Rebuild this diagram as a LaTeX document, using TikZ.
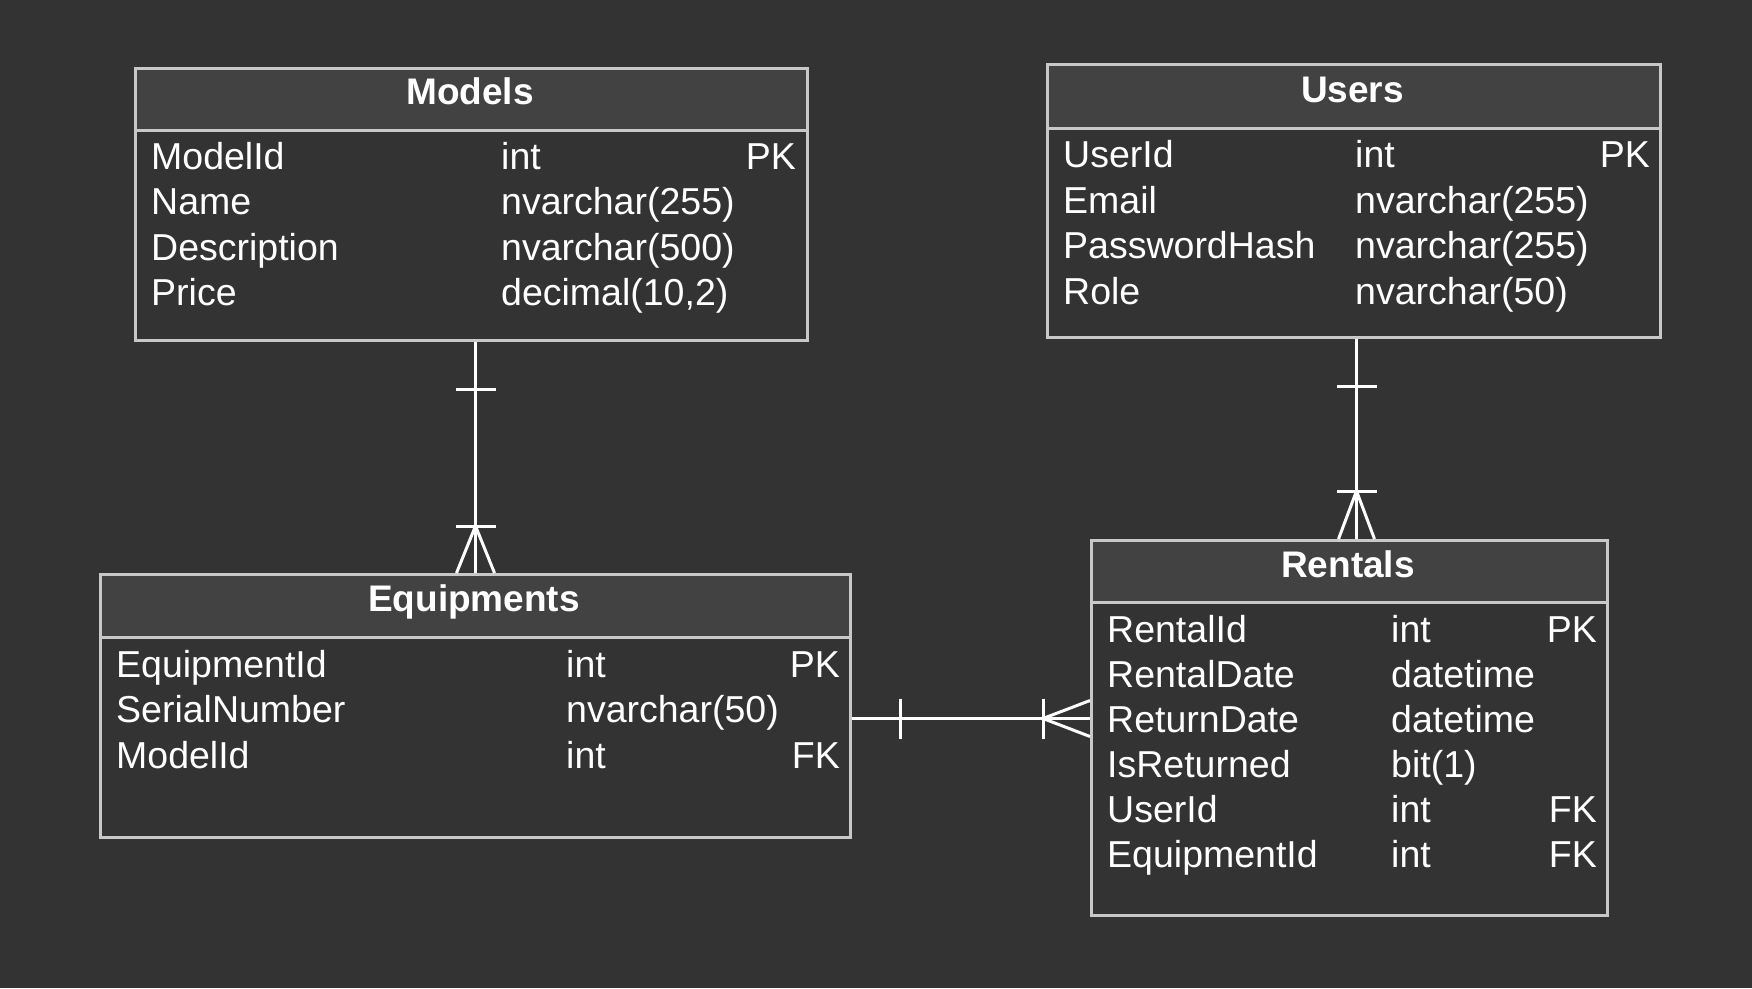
\documentclass[tikz,border=0pt]{standalone}
\usepackage{fontspec}
\setmainfont{Liberation Sans}
\usetikzlibrary{calc}
\definecolor{bg}{HTML}{333333}
\definecolor{hdr}{HTML}{424242}
\definecolor{brd}{HTML}{C8C8C8}
\begin{document}
\begin{tikzpicture}[x=1pt,y=-1pt,
  tbl/.style={draw=brd, line width=3pt, fill=bg, inner sep=0pt, anchor=north west},
  hdrbox/.style={draw=brd, line width=3pt, fill=hdr, inner sep=0pt, anchor=north west},
  field/.style={text=white, inner sep=0pt, anchor=base west, font=\fontsize{37.5}{40}\selectfont},
  keyf/.style={field, anchor=base east},
  title/.style={text=white, inner sep=0pt, anchor=base, font=\bfseries\fontsize{37}{40}\selectfont},
  rel/.style={draw=white, line width=3pt}]
\fill[bg] (0,0) rectangle (1752,988);
\useasboundingbox (0,0) rectangle (1752,988);

% Models
\node[tbl, minimum width=672pt, minimum height=272pt] (models) at (134,67) {};
\node[hdrbox, minimum width=672pt, minimum height=62pt] (modelsh) at (134,67) {};
\node[title] (mt) at (470,104) {Models};
\node[field] (m1a) at (151,169) {ModelId};
\node[field] (m1b) at (501,169) {int};
\node[keyf]  (m1c) at (796,169) {PK};
\node[field] (m2a) at (151,214.5) {Name};
\node[field] (m2b) at (501,214.5) {nvarchar(255)};
\node[field] (m3a) at (151,260) {Description};
\node[field] (m3b) at (501,260) {nvarchar(500)};
\node[field] (m4a) at (151,305.5) {Price};
\node[field] (m4b) at (501,305.5) {decimal(10,2)};

% Users
\node[tbl, minimum width=613pt, minimum height=273pt] (users) at (1046,63) {};
\node[hdrbox, minimum width=613pt, minimum height=64pt] (usersh) at (1046,63) {};
\node[title] (ut) at (1352.5,102) {Users};
\node[field] (u1a) at (1063,167.5) {UserId};
\node[field] (u1b) at (1355,167.5) {int};
\node[keyf]  (u1c) at (1650,167.5) {PK};
\node[field] (u2a) at (1063,213) {Email};
\node[field] (u2b) at (1355,213) {nvarchar(255)};
\node[field] (u3a) at (1063,258.5) {PasswordHash};
\node[field] (u3b) at (1355,258.5) {nvarchar(255)};
\node[field] (u4a) at (1063,304) {Role};
\node[field] (u4b) at (1355,304) {nvarchar(50)};

% Equipments
\node[tbl, minimum width=750pt, minimum height=263pt] (equip) at (99,573) {};
\node[hdrbox, minimum width=750pt, minimum height=63pt] (equiph) at (99,573) {};
\node[title] (et) at (474,611) {Equipments};
\node[field] (e1a) at (116,677) {EquipmentId};
\node[field] (e1b) at (566,677) {int};
\node[keyf]  (e1c) at (840,677) {PK};
\node[field] (e2a) at (116,722.5) {SerialNumber};
\node[field] (e2b) at (566,722.5) {nvarchar(50)};
\node[field] (e3a) at (116,768) {ModelId};
\node[field] (e3b) at (566,768) {int};
\node[keyf]  (e3c) at (840,768) {FK};

% Rentals
\node[tbl, minimum width=516pt, minimum height=375pt] (rentals) at (1090,539) {};
\node[hdrbox, minimum width=516pt, minimum height=62pt] (rentalsh) at (1090,539) {};
\node[title] (rt) at (1348,577) {Rentals};
\node[field] (r1a) at (1107,642) {RentalId};
\node[field] (r1b) at (1391,642) {int};
\node[keyf]  (r1c) at (1597,642) {PK};
\node[field] (r2a) at (1107,687) {RentalDate};
\node[field] (r2b) at (1391,687) {datetime};
\node[field] (r3a) at (1107,732) {ReturnDate};
\node[field] (r3b) at (1391,732) {datetime};
\node[field] (r4a) at (1107,777) {IsReturned};
\node[field] (r4b) at (1391,777) {bit(1)};
\node[field] (r5a) at (1107,822) {UserId};
\node[field] (r5b) at (1391,822) {int};
\node[keyf]  (r5c) at (1597,822) {FK};
\node[field] (r6a) at (1107,867.5) {EquipmentId};
\node[field] (r6b) at (1391,867.5) {int};
\node[keyf]  (r6c) at (1597,867.5) {FK};

% Models -> Equipments
\coordinate (ms) at (models.south -| equip.north);
\coordinate (en) at (equip.north);
\draw[rel] (ms) -- (en);
\draw[rel] ($(ms)+(-20,47)$) -- ($(ms)+(20,47)$);
\draw[rel] ($(en)+(-20,-47)$) -- ($(en)+(20,-47)$);
\draw[rel] ($(en)+(-19,0)$) -- ($(en)+(0,-47)$) -- ($(en)+(19,0)$);

% Users -> Rentals
\coordinate (us) at ($(users.south)+(2.5,0)$);
\coordinate (rn) at (us |- rentals.north);
\draw[rel] (us) -- (rn);
\draw[rel] ($(us)+(-20,47)$) -- ($(us)+(20,47)$);
\draw[rel] ($(rn)+(-20,-48)$) -- ($(rn)+(20,-48)$);
\draw[rel] ($(rn)+(-18,0)$) -- ($(rn)+(0,-48)$) -- ($(rn)+(18,0)$);

% Equipments -> Rentals
\coordinate (ee) at ($(equip.east)+(0,12.5)$);
\coordinate (rw) at (rentals.west |- ee);
\draw[rel] (ee) -- (rw);
\draw[rel] ($(ee)+(48,-20)$) -- ($(ee)+(48,20)$);
\draw[rel] ($(rw)+(-47,-20)$) -- ($(rw)+(-47,20)$);
\draw[rel] ($(rw)+(0,-18)$) -- ($(rw)+(-47,0)$) -- ($(rw)+(0,18)$);
\end{tikzpicture}
\end{document}
